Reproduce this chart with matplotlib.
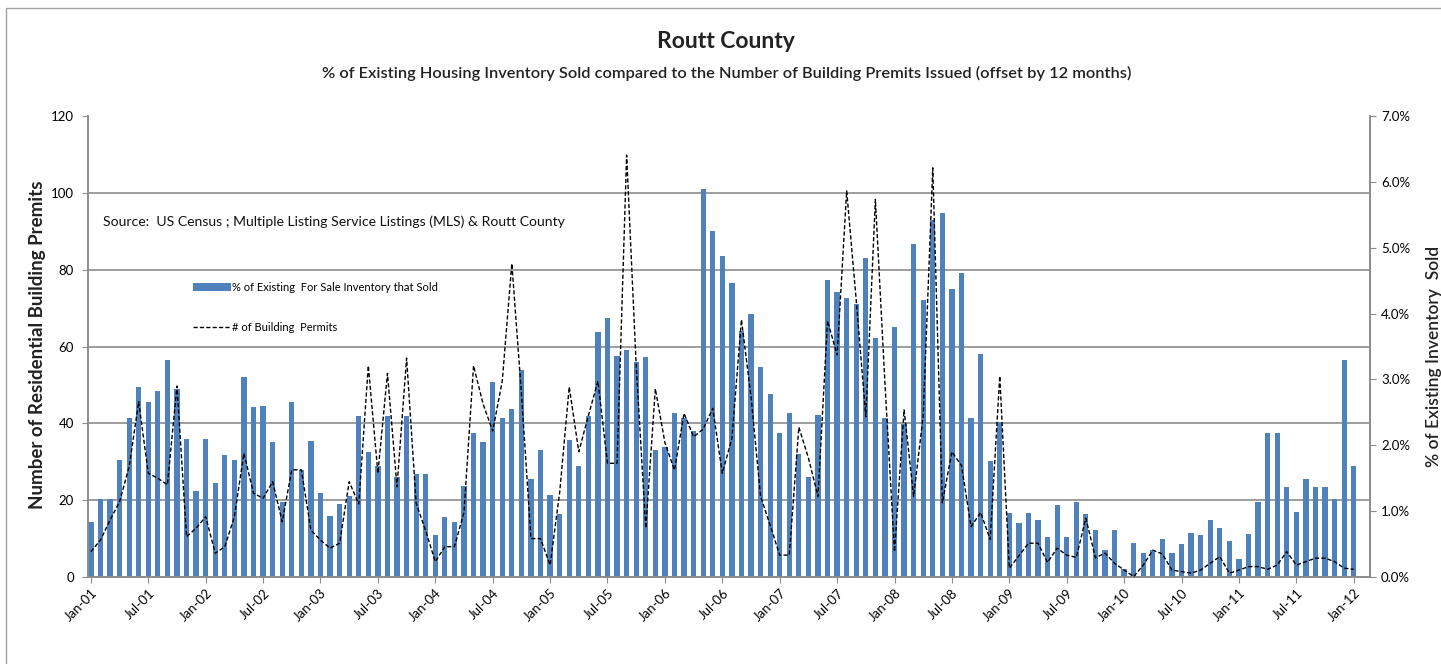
import matplotlib
matplotlib.use("Agg")
import matplotlib.pyplot as plt
import matplotlib.patches as mpatches
from matplotlib.lines import Line2D
from matplotlib.ticker import FuncFormatter
import numpy as np

plt.rcParams['font.family'] = ['Lato', 'DejaVu Sans']

# ---- data ----
tick_labels = ["Jan-01", "Jul-01", "Jan-02", "Jul-02", "Jan-03", "Jul-03", "Jan-04", "Jul-04",
               "Jan-05", "Jul-05", "Jan-06", "Jul-06", "Jan-07", "Jul-07", "Jan-08", "Jul-08",
               "Jan-09", "Jul-09", "Jan-10", "Jul-10", "Jan-11", "Jul-11", "Jan-12"]

# % of existing for-sale inventory that sold (right axis, %), monthly Jan-01 .. Jan-12
pct_sold = [0.84, 1.18, 1.18, 1.77, 2.42, 2.89, 2.66, 2.82, 3.30, 2.86, 2.10, 1.31,
            2.10, 1.42, 1.86, 1.77, 3.03, 2.58, 2.60, 2.05, 1.14, 2.66, 1.63, 2.07,
            1.28, 0.93, 1.11, 1.23, 2.45, 1.90, 1.69, 2.45, 1.52, 2.44, 1.56, 1.56,
            0.64, 0.91, 0.84, 1.38, 2.19, 2.05, 2.96, 2.41, 2.55, 3.14, 1.49, 1.93,
            1.24, 0.96, 2.08, 1.69, 2.44, 3.72, 3.94, 3.35, 3.45, 3.27, 3.34, 1.93,
            1.98, 2.49, 2.41, 2.21, 5.89, 5.25, 4.87, 4.47, 3.73, 3.99, 3.19, 2.78,
            2.19, 2.49, 1.87, 1.52, 2.46, 4.51, 4.33, 4.24, 4.15, 4.85, 3.63, 2.42,
            3.79, 2.33, 5.05, 4.20, 5.42, 5.52, 4.38, 4.62, 2.42, 3.38, 1.76, 2.36,
            0.97, 0.82, 0.97, 0.86, 0.61, 1.09, 0.61, 1.14, 0.95, 0.72, 0.41, 0.72,
            0.12, 0.52, 0.36, 0.41, 0.58, 0.36, 0.50, 0.67, 0.64, 0.86, 0.75, 0.55,
            0.27, 0.66, 1.14, 2.19, 2.19, 1.37, 0.99, 1.49, 1.37, 1.37, 1.18, 3.30,
            1.69]

# number of building permits (left axis), offset by 12 months
permits = [6.6, 9.6, 14.8, 19.6, 28.7, 45.6, 27, 25.7, 24, 49.7, 10.5, 12.7,
           15.7, 6.2, 7.9, 15.7, 32.2, 21.8, 20.5, 24.8, 14.4, 27.9, 27.9, 12.2,
           9.6, 7.5, 8.8, 24.8, 19, 55, 27, 53, 23.5, 57, 19.2, 12,
           4, 7.9, 7.9, 16.8, 55, 45, 38, 51, 81.6, 48, 10, 10,
           3.1, 22, 49.5, 32.6, 42, 51, 29.6, 29.6, 109.8, 55, 12.7, 49,
           35, 27.8, 42.6, 36.5, 38.5, 43.9, 27, 36, 67, 47, 21, 13.5,
           5.7, 5.7, 39, 31, 21, 66.7, 57.8, 100.5, 72, 41.7, 98.3, 50.4,
           6.6, 43.5, 21, 42, 106.5, 19.3, 32.6, 29, 13.1, 16.8, 9.8, 52.3,
           2.3, 5.5, 8.8, 8.8, 3.8, 7.5, 5.7, 5.1, 15.3, 5, 6.2, 3.6,
           1.8, 0.1, 3.1, 7, 6, 1.8, 1.4, 1, 1.8, 3.6, 5.3, 1,
           1.8, 2.7, 2.7, 2, 3.1, 6.6, 3.1, 4, 4.9, 4.9, 4, 2.3,
           2]

left_ticks = [0, 20, 40, 60, 80, 100, 120]
right_ticks = [0, 1, 2, 3, 4, 5, 6, 7]

title = "Routt County"
subtitle = "% of Existing Housing Inventory Sold compared to the Number of Building Premits Issued (offset by 12 months)"
source = "Source:  US Census ; Multiple Listing Service Listings (MLS) & Routt County"
bar_label = "% of Existing  For Sale Inventory that Sold"
line_label = "# of Building  Permits"
ylabel_left = "Number of Residential Building Premits"
ylabel_right = "% of Existing Inventory  Sold"

# ---- figure ----
W, H = 1441, 664
fig = plt.figure(figsize=(W / 100, H / 100), dpi=100)
fig.patch.set_facecolor("white")

# outer border
fig.add_artist(mpatches.Rectangle((6 / W, -0.01), 1.02, 1 - 8 / H + 0.01, transform=fig.transFigure,
                                  fill=False, edgecolor="#a0a0a0", linewidth=1.0))

x0, x1, ytop, ybot = 88, 1370, 116, 577
ax_bar = fig.add_axes([x0 / W, 1 - ybot / H, (x1 - x0) / W, (ybot - ytop) / H])
ax_line = ax_bar.twinx()

months = np.arange(len(pct_sold))
ax_bar.bar(months, pct_sold, width=0.55, color="#4F81BD", zorder=2)
ax_line.plot(np.arange(len(permits)), permits, color="black", linewidth=1.0,
             linestyle=(0, (3, 1.6)), zorder=3)

ax_bar.set_xlim(-0.3, 133.7)
ax_bar.set_ylim(0, 7)
ax_line.set_ylim(0, 120)

# bars on right axis, line on left axis
ax_bar.yaxis.tick_right()
ax_bar.yaxis.set_label_position("right")
ax_line.yaxis.tick_left()
ax_line.yaxis.set_label_position("left")

ax_bar.set_yticks(right_ticks)
ax_bar.yaxis.set_major_formatter(FuncFormatter(lambda v, p: f"{v:.1f}%"))
ax_line.set_yticks(left_ticks)

# horizontal gridlines at the left-axis ticks (drawn behind bars)
ax_bar.set_yticks([t * 7 / 120 for t in left_ticks[1:]], minor=True)
ax_bar.grid(which="minor", axis="y", color="#8c8c8c", linewidth=1.2)
ax_bar.tick_params(axis="y", which="minor", length=0)
ax_bar.set_axisbelow(True)

tick_pos = np.arange(0, len(pct_sold), 6)
ax_bar.set_xticks(tick_pos)
ax_bar.set_xticklabels(tick_labels, rotation=45, ha="right", rotation_mode="anchor", fontsize=9.5)

for a in (ax_bar, ax_line):
    for s in a.spines.values():
        s.set_color("#8c8c8c")
        s.set_linewidth(1.2)
    a.spines["top"].set_visible(False)

ax_bar.tick_params(axis="x", direction="out", length=4, color="#8c8c8c", pad=3)
ax_bar.tick_params(axis="y", which="major", direction="out", length=4, color="#8c8c8c",
                   labelsize=9.5, pad=4)
ax_line.tick_params(axis="y", direction="out", length=4, color="#8c8c8c", labelsize=9.5, pad=6)

# texts
fig.text(726 / W, 1 - 42 / H, title, ha="center", va="center", fontsize=16.5, fontweight="bold",
         color="#222222")
fig.text(727 / W, 1 - 73 / H, subtitle, ha="center", va="center", fontsize=11.8,
         fontweight="semibold", color="#222222")
fig.text(103 / W, 1 - 222 / H, source, ha="left", va="center", fontsize=10.1, color="#111111")
fig.text(38 / W, 1 - 345 / H, ylabel_left, ha="center", va="center", rotation=90, fontsize=13.5,
         fontweight="bold", color="#222222")
fig.text(1434 / W, 1 - 356 / H, ylabel_right, ha="center", va="center", rotation=90, fontsize=12.5,
         fontweight="semibold", color="#222222")

handles = [mpatches.Patch(facecolor="#4F81BD", edgecolor="none"),
           Line2D([0], [0], color="black", linewidth=1.0, linestyle=(0, (3, 1.6)))]
leg = fig.legend(handles, [bar_label, line_label], loc="upper left",
                 bbox_to_anchor=(183 / W, 1 - 272 / H), frameon=False, fontsize=8,
                 handlelength=3.4, handleheight=0.7, handletextpad=0.1, labelspacing=2.6)

fig.savefig("out.png", dpi=100, facecolor="white")
